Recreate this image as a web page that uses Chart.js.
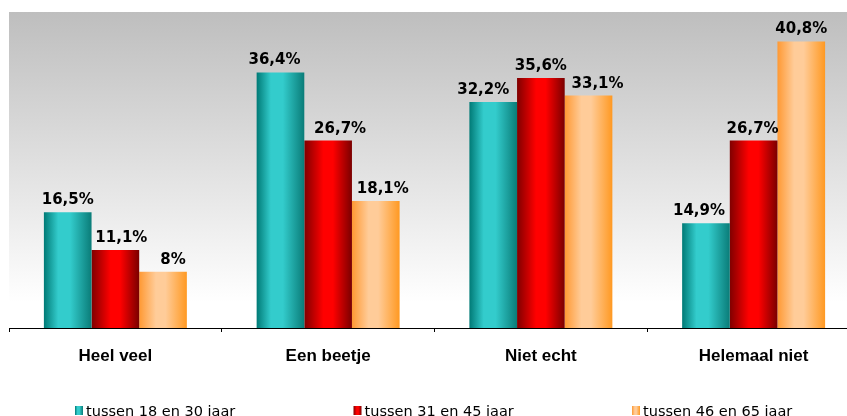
<!DOCTYPE html>
<html>
<head>
<meta charset="utf-8">
<script src="https://cdn.jsdelivr.net/npm/chart.js@4/dist/chart.umd.min.js"></script>
<style>
    html, body { margin: 0; padding: 0; background: #fff; overflow: hidden; }
    #wrap { position: relative; width: 869px; height: 416px; }
</style>
</head>
<body>
<div id="wrap"><canvas id="chart"></canvas></div>
<script>
// Answers per age group, in percent
const categories = ['Heel veel', 'Een beetje', 'Niet echt', 'Helemaal niet'];
const seriesNames = ['tussen 18 en 30 jaar', 'tussen 31 en 45 jaar', 'tussen 46 en 65 jaar'];
const age18to30 = [16.5, 36.4, 32.2, 14.9];
const age31to45 = [11.1, 26.7, 35.6, 26.7];
const age46to65 = [8, 18.1, 33.1, 40.8];

// horizontal shading for each series: dark edge -> light middle -> dark edge
const shades = [
    [[0, '#007a76'], [0.3, '#33cccc'], [0.55, '#33cccc'], [1, '#0a7c78']],
    [[0, '#800000'], [0.4, '#ff0000'], [0.6, '#ff0000'], [1, '#7a0000']],
    [[0, '#ff9933'], [0.35, '#ffcc99'], [0.55, '#ffcc99'], [1, '#ff9922']],
];

// small sideways shifts of the value labels
const labelNudge = [
    [0, -6, -10, -7],
    [6, 12, 0, -1],
    [10, 7, 9, 0],
];

function shadeGradient(ctx, x0, x1, stops) {
    const g = ctx.createLinearGradient(x0, 0, x1, 0);
    stops.forEach(s => g.addColorStop(s[0], s[1]));
    return g;
}

function formatPct(v) {
    return String(v).replace('.', ',') + '%';
}

const plotBackground = {
    id: 'plotBackground',
    beforeDraw(chart) {
        const { ctx, chartArea: a } = chart;
        const g = ctx.createLinearGradient(0, a.top, 0, a.bottom);
        g.addColorStop(0, '#bebebe');
        g.addColorStop(0.92, '#ffffff');
        ctx.save();
        ctx.fillStyle = g;
        ctx.fillRect(a.left, a.top, a.right - a.left, a.bottom - a.top);
        ctx.restore();
    }
};

// each bar gets its own options object so the gradient follows that bar
const barShading = {
    id: 'barShading',
    beforeDatasetsDraw(chart) {
        chart.data.datasets.forEach((ds, i) => {
            chart.getDatasetMeta(i).data.forEach(bar => {
                const half = bar.width / 2;
                bar.options = Object.assign({}, bar.options, {
                    backgroundColor: shadeGradient(chart.ctx, bar.x - half, bar.x + half, shades[i])
                });
            });
        });
    }
};

const valueLabels = {
    id: 'valueLabels',
    afterDatasetsDraw(chart) {
        const ctx = chart.ctx;
        ctx.save();
        ctx.font = 'bold 15px "DejaVu Sans"';
        ctx.fillStyle = '#000';
        ctx.textAlign = 'center';
        ctx.textBaseline = 'alphabetic';
        chart.data.datasets.forEach((ds, i) => {
            chart.getDatasetMeta(i).data.forEach((bar, j) => {
                ctx.fillText(formatPct(ds.data[j]), bar.x + labelNudge[i][j], bar.y - 8);
            });
        });
        ctx.restore();
    }
};

const bottomLegend = {
    id: 'bottomLegend',
    afterDraw(chart) {
        const ctx = chart.ctx;
        ctx.save();
        ctx.font = '14.5px "DejaVu Sans"';
        ctx.textBaseline = 'alphabetic';
        seriesNames.forEach((name, i) => {
            const x = 75 + i * 278.5;
            ctx.fillStyle = shadeGradient(ctx, x, x + 8, shades[i]);
            ctx.fillRect(x, 406, 8, 9);
            ctx.fillStyle = '#000';
            ctx.fillText(name, x + 11, 416);
        });
        ctx.restore();
    }
};

new Chart(document.getElementById('chart'), {
    type: 'bar',
    data: {
        labels: categories,
        datasets: [
            { label: seriesNames[0], data: age18to30, backgroundColor: '#33cccc' },
            { label: seriesNames[1], data: age31to45, backgroundColor: '#ff0000' },
            { label: seriesNames[2], data: age46to65, backgroundColor: '#ffcc99' },
        ]
    },
    options: {
        responsive: true,
        maintainAspectRatio: false,
        animation: false,
        datasets: {
            bar: {
                barPercentage: 1,
                categoryPercentage: 0.672,
                borderWidth: 0,
            }
        },
        layout: {
            padding: { left: 9, right: 9, top: 12, bottom: 0 }
        },
        plugins: {
            legend: { display: false },
            tooltip: { enabled: false },
        },
        scales: {
            y: {
                display: false,
                min: 0,
                max: 45,
            },
            x: {
                afterFit: (scale) => { scale.height = 88; },
                border: { color: '#000', width: 1 },
                grid: {
                    offset: true,
                    drawOnChartArea: false,
                    tickLength: 4,
                    color: '#000',
                },
                ticks: {
                    color: '#000',
                    padding: 14,
                    font: { family: '"Liberation Sans", Arial, sans-serif', size: 17, weight: 'bold' },
                },
            },
        },
    },
    plugins: [plotBackground, barShading, valueLabels, bottomLegend],
});
</script>
</body>
</html>
